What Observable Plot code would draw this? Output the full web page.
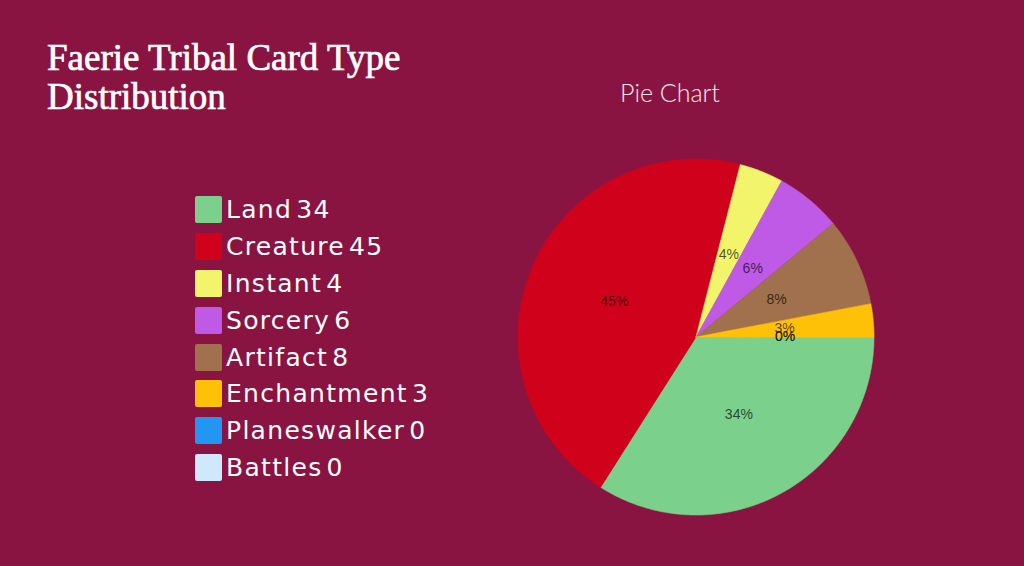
<!DOCTYPE html>
<html><head><meta charset="utf-8">
<script src="https://cdn.jsdelivr.net/npm/d3@7"></script>
<script src="https://cdn.jsdelivr.net/npm/@observablehq/plot@0.6"></script>
<style>
html,body{margin:0;padding:0;background:#8a1441;width:1024px;height:566px;overflow:hidden;}
#wrap{position:relative;width:1024px;height:566px;}
#title{position:absolute;left:47px;top:38px;font-family:"Liberation Serif",serif;font-weight:normal;font-size:37px;line-height:39px;color:#fff;-webkit-text-stroke:0.7px #fff;}
#sub{position:absolute;left:570px;width:200px;text-align:center;top:77px;font-family:Lato;font-weight:300;font-size:25px;color:#f8e6ec;}
#legend{position:absolute;left:195px;top:191px;font-family:"DejaVu Sans";font-size:25px;letter-spacing:1.3px;color:#fff;}
.row{display:flex;align-items:center;height:36.9px;white-space:nowrap;}
.sw{width:27px;height:27px;border-radius:2px;margin-right:4px;flex:none;}
.val{margin-left:4px;}
#chart{position:absolute;left:0;top:0;}
</style></head>
<body><div id="wrap">
<div id="title">Faerie Tribal Card Type<br>Distribution</div>
<div id="sub">Pie Chart</div>
<div id="legend"></div>
<div id="chart"></div>
</div>
<script>
const categories = ["Land","Creature","Instant","Sorcery","Artifact","Enchantment","Planeswalker","Battles"];
const values = [34,45,4,6,8,3,0,0];
const colors = ["#7bd08b","#d0021b","#f2f46c","#bf5ae6","#a0714c","#ffc107","#2196f3","#cfe8fb"];

// legend
const legend = document.getElementById("legend");
categories.forEach((c,i)=>{
  const row = document.createElement("div"); row.className="row";
  const sw = document.createElement("div"); sw.className="sw"; sw.style.background=colors[i];
  const lab = document.createElement("span"); lab.textContent=c;
  const val = document.createElement("span"); val.className="val"; val.textContent=values[i];
  row.append(sw,lab,val); legend.append(row);
});

const total = d3.sum(values);
const arcs = d3.pie().sort(null).startAngle(0).endAngle(2*Math.PI)(values)
  .map((a,i)=>({name:categories[i], value:values[i], a0:a.startAngle, a1:a.endAngle, pct:Math.round(values[i]/total*100)}));

const pts = [];
for (const s of arcs) {
  if (s.a1 - s.a0 <= 0) continue;
  pts.push({name:s.name, x:0, y:0});
  const n = Math.max(2, Math.ceil((s.a1-s.a0)/(Math.PI/360)));
  for (let k=0;k<=n;k++){
    const t = s.a0 + (s.a1-s.a0)*k/n;
    pts.push({name:s.name, x:Math.cos(t), y:Math.sin(t)});
  }
}

const R = 178, cx = 695.5, cy = 336.5, W = 1024, H = 566;
const chart = Plot.plot({
  width: W, height: H,
  marginLeft: cx - R, marginRight: W - cx - R,
  marginTop: cy - R, marginBottom: H - cy - R,
  style: {background: "transparent"},
  x: {domain: [-1,1], axis: null},
  y: {domain: [-1,1], reverse: true, axis: null},
  color: {domain: categories, range: colors},
  marks: [
    Plot.line(pts, {x:"x", y:"y", z:"name", fill:"name", stroke:"name", strokeWidth:0.6, curve:"linear-closed"}),
    Plot.text(arcs, {
      x: d => 0.5*Math.cos((d.a0+d.a1)/2),
      y: d => 0.5*Math.sin((d.a0+d.a1)/2),
      text: d => d.pct + "%",
      fill: "black", fillOpacity: 0.68,
      fontSize: 14, fontFamily: "Liberation Sans, Arial, sans-serif"
    })
  ]
});
document.getElementById("chart").append(chart);
</script>
</body></html>
